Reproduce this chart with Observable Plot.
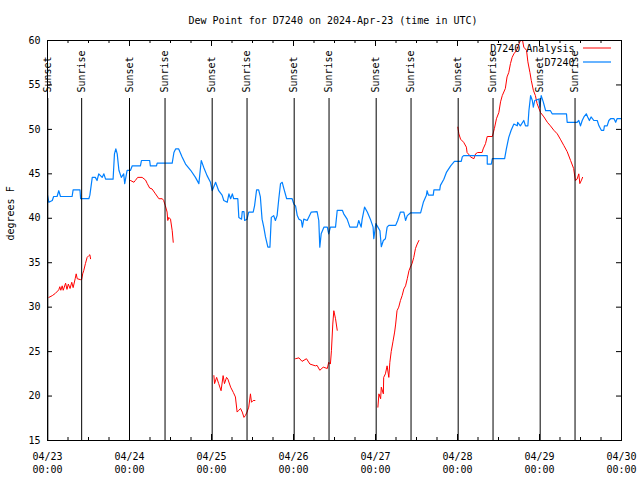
<!DOCTYPE html>
<html>
<head>
<meta charset="utf-8">
<script src="https://cdn.jsdelivr.net/npm/d3@7"></script>
<script src="https://cdn.jsdelivr.net/npm/@observablehq/plot@0.6"></script>
<style>
  html, body { margin: 0; padding: 0; background: white; }
  #chart { width: 640px; height: 480px; }
</style>
</head>
<body>
<div id="chart"></div>
<script>
// ---- Data (hours since 2024-04-23 00:00 UTC, dew point °F) ----
const titleText = "Dew Point for D7240 on 2024-Apr-23 (time in UTC)";
const yLabel = "degrees F";
const seriesNames = ["D7240 Analysis", "D7240"];
const seriesColors = ["#ff0000", "#0080ff"];

const yTicks = [15, 20, 25, 30, 35, 40, 45, 50, 55, 60];
const dayTicks = ["2024-04-23", "2024-04-24", "2024-04-25", "2024-04-26", "2024-04-27", "2024-04-28", "2024-04-29", "2024-04-30"];

const sunsetHours = [0.1, 24.0, 48.2, 72.2, 96.2, 120.2, 144.2];
const sunriseHours = [10.0, 34.4, 58.4, 82.4, 106.4, 130.4, 154.4];

// D7240 observations
const obsHours = [0,0.4,1.4,1.8,2.8,3.3,3.8,7.2,7.5,9.5,9.7,12.1,12.4,13.1,14.0,14.5,15.0,16.0,16.5,17.0,19.2,19.6,20.0,20.4,20.9,21.6,22.3,22.6,23.3,24.3,24.8,27.2,27.5,29.9,30.1,31.9,32.1,36.5,37.0,37.5,38.4,39.4,40.4,41.9,43.3,44.3,45.0,45.7,46.7,47.7,48.2,49.2,50.1,51.1,51.6,52.6,53.1,53.6,54.1,54.5,55.7,56.0,56.8,57.0,57.5,57.7,58.4,58.9,60.2,60.6,61.2,61.8,62.3,62.8,63.3,63.8,64.5,65.1,65.5,66.2,66.7,67.2,67.7,68.2,68.7,69.2,70.0,71.6,72.1,72.6,73.1,73.6,74.3,74.6,75.0,76.0,77.2,78.9,79.4,79.7,80.1,80.9,81.9,82.3,82.8,84.3,84.8,86.3,86.7,87.7,88.5,90.6,91.1,91.8,92.1,92.8,93.6,94.5,95.3,95.5,96.1,96.7,97.3,97.7,98.3,98.9,99.4,99.9,101.9,102.5,103.3,104.3,104.8,105.3,106.2,109.2,110.0,110.9,111.1,111.5,112.9,113.1,114.8,115.0,116.0,116.8,118.0,119.1,121.1,121.4,121.8,128.7,128.71,129.9,130.2,133.8,134.3,135.0,135.7,136.5,137.5,137.6,138.4,139.4,139.9,140.6,140.9,141.4,141.9,142.2,142.6,143.8,144.1,144.5,145.1,145.8,147.2,147.7,151.9,152.1,155.0,155.5,156.0,156.5,157.0,157.7,158.1,158.6,159.1,159.9,160.9,161.4,162.1,162.8,163.0,163.8,164.3,164.8,165.8,166.3,166.7,168.0];
const obsDew = [42.6,41.8,42.0,42.45,42.45,43.1,42.45,42.45,43.2,43.2,42.2,42.2,42.6,44.6,44.6,44.25,45.0,44.6,45.0,44.4,44.4,47.25,47.8,47.25,45.4,44.6,45.0,43.9,45.4,45.4,45.9,45.9,46.5,46.5,45.9,45.9,46.2,46.2,47.4,47.8,47.8,46.9,46.1,45.4,44.6,43.9,46.5,45.75,44.8,44.05,43.1,44.05,43.1,42.6,42.0,41.8,42.75,42.2,42.75,42.2,42.2,40.1,39.9,40.75,40.75,39.75,39.9,40.7,40.7,41.4,43.2,43.2,42.4,39.9,39.0,37.9,36.75,36.75,40.1,40.3,39.75,40.3,42.2,43.9,44.05,43.3,42.2,42.2,41.6,41.4,40.3,39.9,39.75,39.0,39.9,39.75,40.7,40.75,39.75,36.75,38.25,39.0,39.0,38.25,39.0,39.0,40.9,40.9,40.5,39.9,39.0,39.0,39.75,39.0,39.9,41.25,40.7,39.9,39.0,37.7,39.4,39.0,38.6,36.8,37.5,37.7,39.0,39.2,39.2,39.75,40.7,40.7,39.75,40.3,40.6,40.6,41.8,42.6,43.1,42.6,42.6,43.2,43.2,43.7,44.4,45.2,45.9,46.4,46.4,46.9,47.05,47.05,46.1,46.1,46.7,46.7,47.8,49.1,49.9,50.6,50.4,50.8,50.4,51.0,50.4,50.4,52.1,53.8,53.25,52.5,53.25,53.4,52.5,53.8,53.1,52.1,52.1,51.75,51.75,50.8,50.8,51.0,50.4,51.0,51.4,51.75,51.4,51.0,51.4,51.0,51.0,50.4,49.9,49.9,50.4,50.4,51.0,51.2,51.2,50.8,51.2,51.2];

// D7240 Analysis (segments)
const ana1 = [[0.4,31.1],[1.4,31.3],[2.3,31.55],[3.3,31.95],[3.6,32.3],[3.9,31.9],[4.3,32.4],[4.6,31.9],[5.3,32.7],[5.7,32.0],[6.1,32.6],[6.6,32.1],[7.1,32.8],[7.5,32.2],[8.1,33.2],[8.4,33.75],[8.7,33.2],[9.6,33.1],[10.0,33.1],[10.3,33.75],[10.6,34.1],[11.1,34.9],[11.6,35.6],[12.1,35.8],[12.4,35.9],[12.6,35.45]];
const ana2 = [[24.3,44.25],[25.3,44.05],[25.7,44.25],[26.4,44.6],[27.7,44.6],[28.7,44.3],[29.2,43.9],[29.9,43.4],[30.6,43.3],[31.6,42.75],[32.6,42.2],[33.6,42.2],[34.0,42.0],[34.5,41.4],[35.0,40.7],[35.2,39.75],[35.5,40.1],[36.0,39.9],[36.5,38.6],[36.8,37.3]];
const ana3 = [[48.7,22.3],[48.9,21.4],[49.5,22.1],[50.1,21.4],[50.8,20.6],[51.4,22.3],[51.8,21.4],[52.4,22.1],[52.8,21.9],[53.6,21.0],[54.4,20.4],[55.0,19.9],[55.5,18.2],[56.0,18.4],[56.5,18.6],[57.0,18.2],[57.5,17.6],[57.9,17.8],[58.4,18.2],[58.9,18.75],[59.4,20.25],[59.7,19.3],[60.2,19.5],[60.7,19.5]];
const ana4 = [[72.6,24.2],[73.6,24.3],[74.5,23.9],[75.8,24.2],[76.8,23.6],[78.4,23.4],[78.9,23.45],[79.7,22.9],[80.7,23.25],[81.9,23.1],[82.3,23.8],[82.8,23.6],[83.1,25.1],[83.5,28.1],[83.8,29.6],[84.3,28.7],[84.8,27.4]];
const ana5 = [[96.7,18.75],[97.0,20.25],[97.5,19.7],[97.7,21.0],[98.3,20.25],[98.4,22.1],[98.9,22.5],[99.4,23.4],[99.9,22.1],[100.2,23.8],[100.6,25.0],[101.1,26.1],[101.6,27.2],[101.9,28.1],[102.3,29.6],[102.8,30.0],[103.3,30.75],[103.8,31.3],[104.3,32.05],[104.8,32.4],[105.3,33.2],[105.8,34.1],[106.2,34.5],[106.7,34.9],[107.2,35.6],[107.7,36.6],[108.2,37.1],[108.7,37.5]];
const ana6 = [[120.1,50.25],[120.4,49.5],[120.9,48.9],[121.8,48.55],[122.6,48.0],[122.8,47.4],[123.6,47.05],[123.8,46.9],[124.8,46.7],[125.3,47.25],[125.9,47.4],[127.2,47.4],[127.5,47.8],[128.2,48.4],[128.7,49.2],[130.2,49.2],[130.8,50.1],[131.4,51.2],[132.1,51.9],[132.6,53.1],[133.1,53.8],[134.0,54.6],[134.5,55.9],[135.0,56.4],[135.5,57.4],[136.0,58.1],[136.5,58.5],[137.3,58.9],[137.8,59.4],[138.2,59.8],[138.9,60.3],[139.4,59.25],[140.2,58.9],[140.6,57.6],[141.2,56.4],[141.6,55.5],[142.2,54.4],[142.8,53.8],[143.3,52.9],[144.3,51.9],[145.3,51.4],[146.3,50.8],[147.2,50.4],[148.2,49.9],[149.2,49.5],[150.1,48.9],[151.1,48.2],[152.1,47.5],[153.1,46.5],[154.0,45.6],[154.5,44.25],[155.0,44.4],[155.5,45.0],[155.8,43.9],[156.3,44.3],[156.6,44.6]];

// ---- Build tables ----
const t0 = Date.UTC(2024, 3, 23);
const toDate = h => new Date(t0 + h * 3600e3);
const obs = obsHours.map((h, i) => ({date: toDate(h), v: obsDew[i]}));
const ana = [ana1, ana2, ana3, ana4, ana5, ana6].flatMap((seg, s) => seg.map(([h, v]) => ({date: toDate(h), v, seg: s})));
const events = [
  ...sunsetHours.map(h => ({date: toDate(h), label: "Sunset"})),
  ...sunriseHours.map(h => ({date: toDate(h), label: "Sunrise"}))
];
const days = dayTicks.map(d => new Date(d + "T00:00:00Z"));
const minorTicks = d3.utcHour.every(6).range(days[0], days[days.length - 1]).filter(d => d.getUTCHours() !== 0);

const FW = 640 - 47 - 19; // frame width
const FH = 480 - 40 - 40; // frame height
const fmt = d3.utcFormat("%m/%d\n%H:%M");

const chart = Plot.plot({
  width: 640,
  height: 480,
  marginLeft: 47,
  marginRight: 19,
  marginTop: 40,
  marginBottom: 40,
  style: {fontFamily: "'DejaVu Sans Mono', monospace", fontSize: "10px", background: "white", color: "black"},
  x: {type: "utc", domain: [days[0], days[days.length - 1]]},
  y: {domain: [15, 60]},
  marks: [
    Plot.line(ana, {x: "date", y: "v", z: "seg", stroke: seriesColors[0], strokeWidth: 1, clip: true}),
    Plot.line(obs, {x: "date", y: "v", stroke: seriesColors[1], strokeWidth: 1.2, clip: true}),
    Plot.ruleX(events, {x: "date", stroke: "black", strokeWidth: 1, insetTop: 58}),
    Plot.text(events, {x: "date", text: "label", frameAnchor: "top", dy: 52, rotate: -90, textAnchor: "start", lineAnchor: "middle", fill: "black"}),
    // ticks (inward)
    Plot.ruleY(yTicks, {y: d => d, insetRight: FW - 5, stroke: "black"}),
    Plot.ruleY(yTicks, {y: d => d, insetLeft: FW - 5, stroke: "black"}),
    Plot.ruleX(days, {x: d => d, insetTop: FH - 6, stroke: "black"}),
    Plot.ruleX(days, {x: d => d, insetBottom: FH - 6, stroke: "black"}),
    Plot.ruleX(minorTicks, {x: d => d, insetTop: FH - 3, stroke: "black"}),
    Plot.ruleX(minorTicks, {x: d => d, insetBottom: FH - 3, stroke: "black"}),
    Plot.frame({stroke: "black"}),
    Plot.axisY(yTicks, {tickSize: 0, tickPadding: 7, label: null, fontSize: 10}),
    Plot.axisX(days, {tickSize: 0, tickPadding: 10, tickFormat: fmt, lineHeight: 1.3, label: null, fontSize: 10}),
    Plot.text([yLabel], {frameAnchor: "left", dx: -37, rotate: -90, lineAnchor: "middle", fill: "black"}),
    Plot.text([titleText], {frameAnchor: "top", dy: -20, dx: -1.5, lineAnchor: "middle", fill: "black"}),
    Plot.text([seriesNames[0]], {frameAnchor: "top-right", dx: -47, dy: 8, textAnchor: "end", lineAnchor: "middle", fill: "black"}),
    Plot.text([seriesNames[1]], {frameAnchor: "top-right", dx: -47, dy: 22, textAnchor: "end", lineAnchor: "middle", fill: "black"})
  ]
});

// legend key lines
const svg = d3.select(chart);
[48, 62].forEach((y, i) => {
  svg.append("line").attr("x1", 583).attr("x2", 611).attr("y1", y).attr("y2", y)
    .attr("stroke", seriesColors[i]).attr("stroke-width", i ? 1.2 : 1);
});

document.getElementById("chart").appendChild(chart);
</script>
</body>
</html>
